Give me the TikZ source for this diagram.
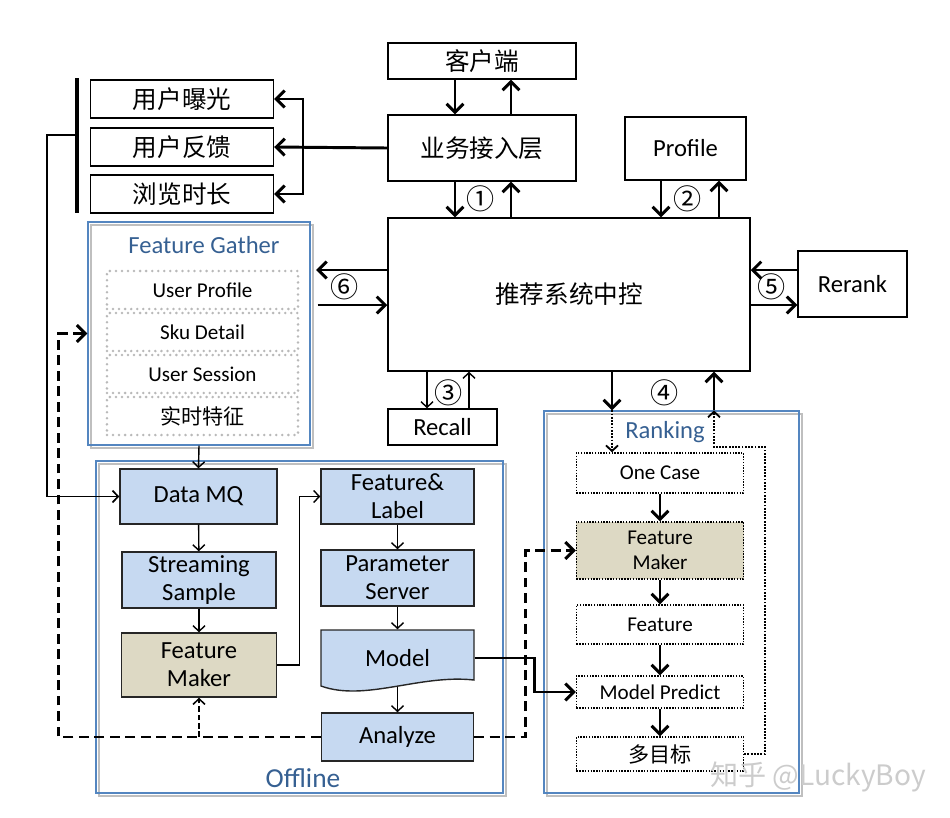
\documentclass[tikz,border=0pt]{standalone}
\usepackage{fontspec}
\setmainfont{Carlito}
\newfontfamily\cjk{Noto Sans CJK SC}
\usetikzlibrary{arrows.meta, positioning, calc}

\definecolor{boxblue}{RGB}{198,217,241}
\definecolor{boxtan}{RGB}{221,217,196}
\definecolor{titleblue}{RGB}{54,96,146}
\definecolor{panelblue}{RGB}{84,134,192}

\begin{document}
\begin{tikzpicture}[
        x=0.025cm, y=-0.025cm,
        caja/.style={
            rectangle,
            draw=black,
            line width=1pt,
            fill=white,
            align=center,
            inner sep=0pt,
            font=\fontsize{17.5}{20}\selectfont
        },
        cajacn/.style={caja, font=\cjk\fontsize{17.5}{20}\selectfont},
        azul/.style={caja, fill=boxblue, draw=black!85},
        arena/.style={caja, fill=boxtan, draw=black!85},
        gris/.style={
            rectangle,
            draw=gray!55,
            line width=2pt,
            line cap=round,
            dash pattern=on 0pt off 4.3pt,
            align=center,
            inner sep=0pt,
            minimum width=4.775cm,
            minimum height=0.95cm,
            font=\fontsize{15}{18}\selectfont
        },
        rango/.style={
            rectangle,
            draw=black,
            line width=1pt,
            densely dotted,
            fill=white,
            align=center,
            inner sep=0pt,
            minimum width=4.175cm,
            font=\fontsize{15}{17.5}\selectfont
        },
        panel/.style={
            rectangle,
            draw=panelblue,
            line width=0.8pt,
            preaction={draw=gray!50, line width=1.2pt, transform canvas={shift={(2pt,-2pt)}}}
        },
        titulo/.style={font=\fontsize{17.5}{20}\selectfont, text=titleblue},
        num/.style={font=\cjk\fontsize{20}{22}\selectfont, inner sep=0pt},
        gruesa/.style={line width=2.1pt, -{Straight Barb[length=6pt, width=12pt]}},
        fina/.style={line width=1pt, -{Straight Barb[length=4pt, width=8.5pt]}},
        discont/.style={line width=2.1pt, dash pattern=on 7pt off 4pt, -{Straight Barb[length=6pt, width=12pt]}},
        discontfina/.style={line width=1.1pt, dash pattern=on 4pt off 2pt, -{Straight Barb[length=4pt, width=8.5pt]}},
        puntos/.style={line width=1.3pt, densely dotted, -{Straight Barb[length=4pt, width=8.5pt]}}
    ]
        \useasboundingbox (0,0) rectangle (950,818);

        % paneles
        \node[panel, minimum width=5.55cm, minimum height=5.575cm] (gather) at (199,333.5) {};
        \node[panel, minimum width=10.175cm, minimum height=8.3cm] (offline) at (299.5,627) {};
        \node[panel, minimum width=6.375cm, minimum height=9.55cm] (ranking) at (671.5,602) {};
        \node[titulo] (gathertit) at (204,245) {Feature Gather};
        \node[titulo, font=\fontsize{19.5}{22}\selectfont] (offlinetit) at (303,778) {Offline};
        \node[titulo] (rankingtit) at (665,432) {Ranking};

        % parte superior
        \node[cajacn, minimum width=4.575cm, minimum height=0.95cm] (exposure) at (182,99) {用户曝光};
        \node[cajacn, minimum width=4.575cm, minimum height=0.95cm] (feedback) at (182,147) {用户反馈};
        \node[cajacn, minimum width=4.575cm, minimum height=0.95cm] (browse) at (182,194) {浏览时长};
        \node[cajacn, minimum width=4.7cm, minimum height=0.9cm] (client) at (482,61) {客户端};
        \node[cajacn, minimum width=4.7cm, minimum height=1.65cm] (access) at (482,148) {业务接入层};
        \node[caja, minimum width=3.025cm, minimum height=1.575cm] (profile) at (685.5,148.5) {Profile};
        \node[cajacn, minimum width=9.05cm, minimum height=3.825cm] (control) at (569,294.5) {推荐系统中控};
        \node[caja, minimum width=2.725cm, minimum height=1.65cm] (rerank) at (852.5,284) {Rerank};
        \node[caja, minimum width=2.725cm, minimum height=0.9cm] (recall) at (442.5,427) {Recall};

        % feature gather
        \node[gris] (userprofile) at (202.5,290) {User Profile};
        \node[gris] (skudetail) at (202.5,332) {Sku Detail};
        \node[gris] (usersession) at (202.5,374) {User Session};
        \node[gris, font=\cjk\fontsize{15}{18}\selectfont] (realtime) at (202.5,416) {实时特征};

        % offline
        \node[azul, minimum width=3.925cm, minimum height=1.375cm] (datamq) at (198.5,496.5) {Data MQ};
        \node[azul, minimum width=3.85cm, minimum height=1.4cm] (streaming) at (199,580) {Streaming\\Sample};
        \node[arena, minimum width=3.875cm, minimum height=1.6cm] (fmaker) at (199,665) {Feature\\Maker};
        \node[azul, minimum width=3.825cm, minimum height=1.375cm] (featlabel) at (397.5,496.5) {Feature\&\\Label};
        \node[azul, minimum width=3.825cm, minimum height=1.4cm] (paramserver) at (397.5,578) {Parameter\\Server};
        \fill[boxblue, draw=black!85, line width=1pt] (321,630) -- (474,630) -- (474,680)
            .. controls (420,674) and (365,702) .. (321,686) -- cycle;
        \node[caja, draw=none, fill=none, minimum width=3.825cm, minimum height=1.4cm] (model) at (397.5,658) {Model};
        \node[azul, minimum width=3.8cm, minimum height=1.2cm] (analyze) at (397.5,737) {Analyze};

        % ranking
        \node[rango, minimum height=1cm] (onecase) at (660,473) {One Case};
        \node[rango, fill=boxtan, minimum height=1.425cm] (rfmaker) at (660,550.5) {Feature\\Maker};
        \node[rango, minimum height=0.975cm] (feature) at (660,624.5) {Feature};
        \node[rango, minimum height=0.8cm] (predict) at (660,692) {Model Predict};
        \node[rango, minimum height=0.85cm, font=\cjk\fontsize{15}{17.5}\selectfont] (multi) at (660,754) {多目标};

        % numeros
        \node[num] (n1) at (481,199) {①};
        \node[num] (n2) at (688,199) {②};
        \node[num] (n3) at (449,393) {③};
        \node[num] (n4) at (665,393) {④};
        \node[num] (n5) at (772,287) {⑤};
        \node[num] (n6) at (345,287) {⑥};

        \node[font=\cjk\fontsize{20}{22}\selectfont, text=gray!40] (marca) at (818,777) {知乎 @LuckyBoy};

        % columnas de flechas
        \coordinate (c1) at (455,0);
        \coordinate (c2) at (511,0);
        \coordinate (c3) at (661,0);
        \coordinate (c4) at (719,0);
        \coordinate (c5) at (427,0);
        \coordinate (c6) at (469,0);
        \coordinate (c7) at (612,0);
        \coordinate (c8) at (714,0);
        \coordinate (f1) at (0,270);
        \coordinate (f2) at (0,305);
        \coordinate (split) at (303,147);
        \coordinate (barra) at (77,135);
        \coordinate (vuelta) at (765,447);

        \draw[line width=2.8pt] (77,78) -- (77,213);
        \draw[line width=1.2pt, -{Straight Barb[length=4pt, width=8.5pt]}] (barra) -- ++(-30,0) |- (datamq.west);

        \draw[gruesa] (access.west) -- (feedback.east);
        \draw[gruesa] (split) |- (exposure.east);
        \draw[gruesa] (split) |- (browse.east);
        \draw[gruesa] (client.south -| c1) -- (access.north -| c1);
        \draw[gruesa] (access.north -| c2) -- (client.south -| c2);
        \draw[gruesa] (access.south -| c1) -- (control.north -| c1);
        \draw[gruesa] (control.north -| c2) -- (access.south -| c2);
        \draw[gruesa] (profile.south -| c3) -- (control.north -| c3);
        \draw[gruesa] (control.north -| c4) -- (profile.south -| c4);
        \draw[gruesa] (rerank.west |- f1) -- (control.east |- f1);
        \draw[gruesa] (control.east |- f2) -- (rerank.west |- f2);
        \draw[gruesa] (control.west |- f1) -- ([xshift=4pt]gather.east |- f1);
        \draw[gruesa] ([xshift=5pt]gather.east |- f2) -- (control.west |- f2);
        \draw[fina] (control.south -| c5) -- (recall.north -| c5);
        \draw[fina] (recall.north -| c6) -- (control.south -| c6);
        \draw[gruesa] (control.south -| c7) -- (ranking.north -| c7);
        \draw[gruesa] (ranking.north -| c8) -- (control.south -| c8);

        % dentro de ranking
        \draw[puntos] (ranking.north -| c7) -- (onecase.north -| c7);
        \draw[gruesa] (onecase) -- (rfmaker);
        \draw[gruesa] (rfmaker) -- (feature);
        \draw[gruesa] (feature) -- (predict);
        \draw[gruesa] (predict) -- (multi);
        \draw[puntos] (multi.east) -| (vuelta) -| (ranking.north -| c8);

        % dentro de offline
        \draw[fina] (gather.south) -- (datamq.north);
        \draw[fina] (datamq) -- (streaming);
        \draw[fina] (streaming) -- (fmaker);
        \draw[fina] (fmaker.east) -- ++(22,0) |- (featlabel.west);
        \draw[fina] (featlabel) -- (paramserver);
        \draw[fina] (paramserver.south) -- (model.north);
        \draw[fina] (model.south) -- (analyze.north);

        % retroalimentacion
        \draw[discont] (analyze.west) -| ($(gather.west)+(-29,0)$) -- (gather.west);
        \draw[discontfina] (fmaker.south |- analyze.west) -- (fmaker.south);
        \draw[discont] (analyze.east) -| ($(rfmaker.west)+(-50,0)$) -- (rfmaker.west);
        \draw[gruesa] (model.east) -| ($(predict.west)+(-41,0)$) -- (predict.west);
    \end{tikzpicture}
\end{document}
